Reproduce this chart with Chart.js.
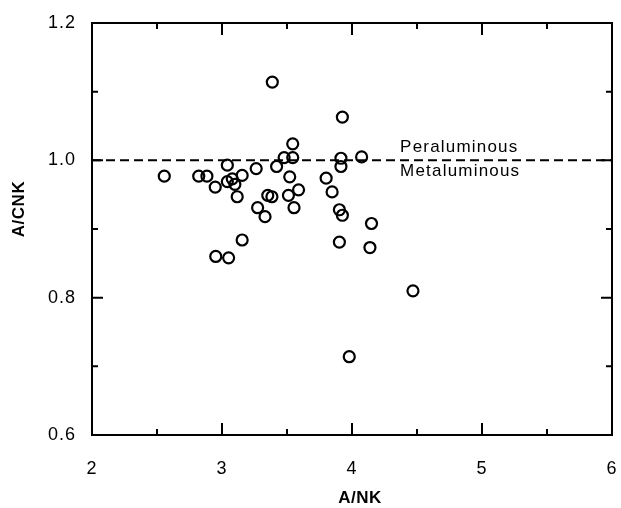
<!DOCTYPE html>
<html><head><meta charset="utf-8">
<script src="https://cdn.jsdelivr.net/npm/chart.js@4/dist/chart.umd.min.js"></script>
<style>html,body{margin:0;padding:0;background:#fff;overflow:hidden}#wrap{width:621px;height:508px;overflow:hidden;position:relative}#c{position:absolute;left:0;top:0}</style>
</head><body><div id="wrap"><canvas id="c" width="640" height="508"></canvas></div>
<script>
// ---- data ----
const xValues = [2.556, 2.821, 2.884, 2.948, 3.041, 3.041, 3.079, 3.099, 3.155, 3.117,
                 3.263, 3.274, 3.331, 3.352, 3.384, 3.387, 3.420, 3.478, 3.544, 3.544,
                 3.521, 3.589, 3.511, 3.554, 3.801, 3.847, 3.926, 3.915, 3.915, 4.074,
                 3.903, 3.926, 4.150, 3.155, 2.952, 3.051, 3.903, 4.138, 4.469, 3.979];
const yValues = [0.977, 0.977, 0.977, 0.961, 0.993, 0.969, 0.973, 0.965, 0.978, 0.947,
                 0.988, 0.931, 0.918, 0.949, 0.947, 1.114, 0.991, 1.004, 1.024, 1.004,
                 0.976, 0.957, 0.949, 0.931, 0.974, 0.954, 1.063, 1.003, 0.991, 1.005,
                 0.928, 0.920, 0.908, 0.884, 0.860, 0.858, 0.881, 0.873, 0.810, 0.714];
const refLineY = 1.0;
const xRange = [2, 6];
const yRange = [0.6, 1.2];
const xTicks = [2, 3, 4, 5, 6];
const xTickLabels = ['2', '3', '4', '5', '6'];
const yTicks = [0.6, 0.8, 1.0, 1.2];
const yTickLabels = ['0.6', '0.8', '1.0', '1.2'];
const xMinorTicks = [2.5, 3.5, 4.5, 5.5];
const yMinorTicks = [0.7, 0.9, 1.1];
const xTitle = 'A/NK';
const yTitle = 'A/CNK';
const upperLabel = 'Peraluminous';
const lowerLabel = 'Metaluminous';
const labelX = 4.37;

const FONT = '"Liberation Sans", Arial, Helvetica, sans-serif';

const points = xValues.map((x, i) => ({ x: x, y: yValues[i] }));
const refLine = [{ x: xRange[0], y: refLineY }, { x: xRange[1], y: refLineY }];

const spacingPlugin = {
  id: 'spacing',
  beforeDraw(chart) { try { chart.ctx.letterSpacing = '1px'; } catch (e) {} },
  afterDatasetsDraw(chart) { try { chart.ctx.letterSpacing = '0px'; } catch (e) {} }
};

const framePlugin = {
  id: 'frameTicks',
  afterDraw(chart) {
    const ctx = chart.ctx;
    const a = chart.chartArea;
    const xs = chart.scales.x, ys = chart.scales.y;
    ctx.save();
    ctx.strokeStyle = '#000';
    ctx.lineWidth = 2;
    ctx.lineCap = 'butt';
    ctx.strokeRect(a.left, a.top, a.right - a.left, a.bottom - a.top);
    ctx.beginPath();
    const xt = (v, len) => {
      const p = xs.getPixelForValue(v);
      ctx.moveTo(p, a.bottom); ctx.lineTo(p, a.bottom - len);
      ctx.moveTo(p, a.top); ctx.lineTo(p, a.top + len);
    };
    const yt = (v, len) => {
      const p = ys.getPixelForValue(v);
      ctx.moveTo(a.left, p); ctx.lineTo(a.left + len, p);
      ctx.moveTo(a.right, p); ctx.lineTo(a.right - len, p);
    };
    xTicks.forEach(v => xt(v, 12));
    xMinorTicks.forEach(v => xt(v, 6));
    yTicks.forEach(v => yt(v, 11));
    yMinorTicks.forEach(v => yt(v, 6));
    ctx.stroke();

    // annotation labels
    ctx.fillStyle = '#000';
    ctx.font = '17px ' + FONT;
    try { ctx.letterSpacing = '1.2px'; } catch (e) {}
    ctx.textAlign = 'left';
    ctx.textBaseline = 'alphabetic';
    const lx = xs.getPixelForValue(labelX);
    const ly = ys.getPixelForValue(refLineY);
    ctx.fillText(upperLabel, lx, ly - 8);
    ctx.fillText(lowerLabel, lx, ly + 16);
    try { ctx.letterSpacing = '0.5px'; } catch (e) {}

    // axis titles
    ctx.font = 'bold 17px ' + FONT;
    ctx.textAlign = 'center';
    ctx.textBaseline = 'middle';
    ctx.fillText(xTitle, 360, 498);
    ctx.translate(19, 209);
    ctx.rotate(-Math.PI / 2);
    ctx.fillText(yTitle, 0, 0);
    ctx.restore();
  }
};

new Chart(document.getElementById('c'), {
  type: 'scatter',
  data: {
    datasets: [
      {
        label: 'samples',
        data: points,
        showLine: false,
        pointStyle: 'circle',
        pointRadius: 5.5,
        pointHoverRadius: 5.5,
        pointBorderWidth: 2.2,
        borderColor: '#000',
        backgroundColor: 'rgba(0,0,0,0)',
        pointBackgroundColor: 'rgba(0,0,0,0)',
        pointBorderColor: '#000'
      },
      {
        type: 'line',
        label: 'A/CNK = 1',
        data: refLine,
        borderColor: '#000',
        borderWidth: 2,
        borderDash: [9, 5],
        pointRadius: 0,
        fill: false
      }
    ]
  },
  options: {
    responsive: false,
    animation: false,
    devicePixelRatio: 1,
    layout: { padding: { left: 0, top: 23, right: 21, bottom: 0 } },
    plugins: { legend: { display: false }, tooltip: { enabled: false } },
    scales: {
      x: {
        type: 'linear',
        min: xRange[0], max: xRange[1],
        grid: { display: false, drawTicks: false },
        border: { display: false },
        afterBuildTicks: s => { s.ticks = xTicks.map(v => ({ value: v })); },
        afterFit: s => { s.height = 73; },
        ticks: {
          autoSkip: false, maxRotation: 0, padding: 23, color: '#000',
          font: { family: FONT, size: 18 },
          callback: (v, i) => xTickLabels[i]
        }
      },
      y: {
        type: 'linear',
        min: yRange[0], max: yRange[1],
        grid: { display: false, drawTicks: false },
        border: { display: false },
        afterBuildTicks: s => { s.ticks = yTicks.map(v => ({ value: v })); },
        afterFit: s => { s.width = 92; s.paddingTop = 0; s.paddingBottom = 0; },
        ticks: {
          autoSkip: false, padding: 16, color: '#000',
          font: { family: FONT, size: 18 },
          callback: (v, i) => yTickLabels[i]
        }
      }
    }
  },
  plugins: [spacingPlugin, framePlugin]
});
</script>
</body></html>
